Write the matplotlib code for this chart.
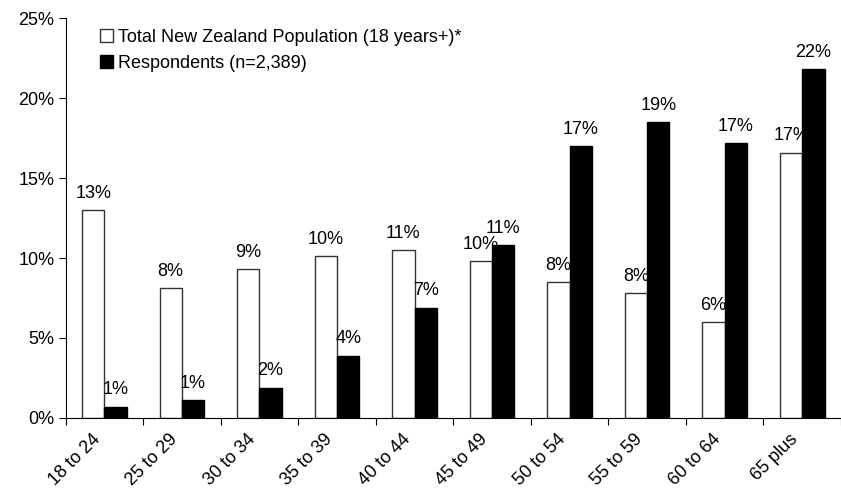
import numpy as np
import matplotlib.pyplot as plt
import matplotlib.transforms as mtransforms
from matplotlib.ticker import FuncFormatter, FixedLocator

plt.rcParams['font.family'] = ['Liberation Sans', 'DejaVu Sans']

# data
ages = ['18 to 24', '25 to 29', '30 to 34', '35 to 39', '40 to 44',
        '45 to 49', '50 to 54', '55 to 59', '60 to 64', '65 plus']
nz_pop = [13.0, 8.1, 9.3, 10.1, 10.5, 9.8, 8.5, 7.8, 6.0, 16.6]
respondents = [0.7, 1.1, 1.9, 3.9, 6.9, 10.8, 17.0, 18.5, 17.2, 21.8]
nz_labels = ['13%', '8%', '9%', '10%', '11%', '10%', '8%', '8%', '6%', '17%']
resp_labels = ['1%', '1%', '2%', '4%', '7%', '11%', '17%', '19%', '17%', '22%']

fs = 13

fig = plt.figure(figsize=(8.41, 4.94), dpi=100)
ax = fig.add_axes([0.078, 0.154, 0.922, 0.809])

x = np.arange(len(ages))
w = 0.288
b1 = ax.bar(x - w / 2, nz_pop, w, color='white', edgecolor='#333333', linewidth=1.0,
            label='Total New Zealand Population (18 years+)*')
b2 = ax.bar(x + w / 2, respondents, w, color='black', edgecolor='black', linewidth=1.0,
            label='Respondents (n=2,389)')

for bar, lab in zip(b1, nz_labels):
    ax.annotate(lab, (bar.get_x() + bar.get_width() / 2, bar.get_height()),
                xytext=(0, 6), textcoords='offset points', ha='center', va='bottom', fontsize=fs)
for bar, lab in zip(b2, resp_labels):
    ax.annotate(lab, (bar.get_x() + bar.get_width() / 2, bar.get_height()),
                xytext=(0, 6), textcoords='offset points', ha='center', va='bottom', fontsize=fs)

ax.set_xlim(-0.5, len(ages) - 0.5)
ax.set_ylim(0, 25)
ax.set_yticks([0, 5, 10, 15, 20, 25])
ax.yaxis.set_major_formatter(FuncFormatter(lambda v, p: '%d%%' % v))
ax.tick_params(axis='y', labelsize=fs, length=5, direction='out', width=0.8, pad=3)

# category labels on minor ticks, boundary marks on major ticks
ax.xaxis.set_major_locator(FixedLocator(np.arange(-0.5, len(ages), 1.0)))
ax.xaxis.set_major_formatter(FuncFormatter(lambda v, p: ''))
ax.xaxis.set_minor_locator(FixedLocator(x))
ax.set_xticklabels(ages, minor=True, rotation=45, ha='right', rotation_mode='anchor', fontsize=fs)
ax.tick_params(axis='x', which='major', length=5, direction='out', width=0.8)
ax.tick_params(axis='x', which='minor', length=0, pad=9)
shift = mtransforms.ScaledTranslation(-0.13, 0, fig.dpi_scale_trans)
for t in ax.get_xticklabels(minor=True):
    t.set_transform(t.get_transform() + shift)

ax.spines['top'].set_visible(False)
ax.spines['right'].set_visible(False)
ax.spines['left'].set_linewidth(0.8)
ax.spines['bottom'].set_linewidth(0.8)

ax.legend(loc='upper left', bbox_to_anchor=(0.024, 1.015), frameon=False, fontsize=fs,
          handlelength=0.72, handleheight=0.72, handletextpad=0.25, labelspacing=0.5)

fig.savefig('out.png', dpi=100)
